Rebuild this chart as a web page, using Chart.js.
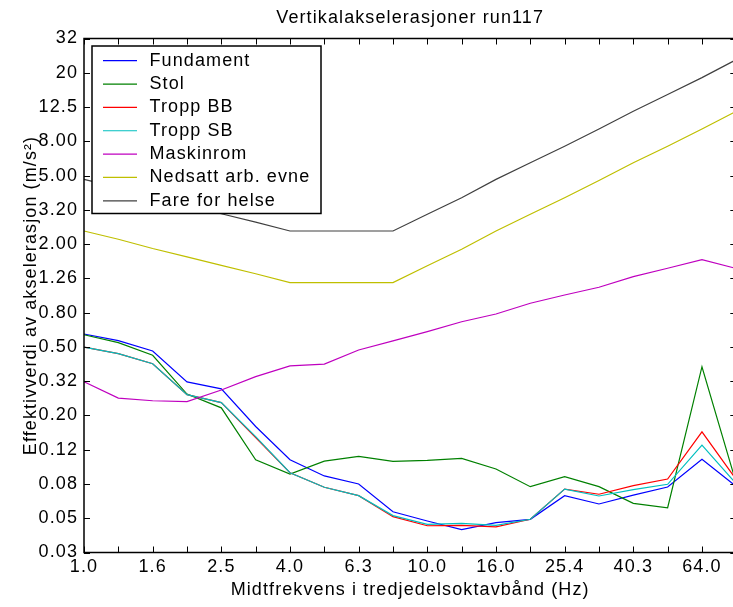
<!DOCTYPE html>
<html>
<head>
<meta charset="utf-8">
<script src="https://cdn.jsdelivr.net/npm/chart.js@4"></script>
<style>
html, body { margin: 0; padding: 0; overflow: hidden; background: #fff; }
#wrap { width: 745px; height: 607px; }
</style>
</head>
<body>
<div id="wrap"><canvas id="c" width="745" height="607"></canvas></div>
<script>
// Third-octave centre frequencies (Hz)
const freqLabels = ['1.0','1.3','1.6','2.0','2.5','3.2','4.0','5.0','6.3','8.0','10.0','12.7','16.0','20.2','25.4','32.0','40.3','50.8','64.0','80.6'];

// Y tick labels (log axis, bottom to top)
const yTickLabels = ['0.03','0.05','0.08','0.12','0.20','0.32','0.50','0.80','1.26','2.00','3.20','5.00','8.00','12.5','20','32'];

// Series values (m/s^2)
const fundament = [0.596,0.545,0.474,0.313,0.285,0.172,0.110,0.0885,0.0794,0.0547,0.0483,0.0430,0.0472,0.0494,0.0679,0.0607,0.0683,0.0762,0.1107,0.0767];
const stol      = [0.590,0.531,0.448,0.266,0.221,0.110,0.0908,0.108,0.115,0.1075,0.109,0.112,0.0972,0.0766,0.0876,0.0766,0.0612,0.0577,0.384,0.080];
const troppBB   = [0.500,0.458,0.400,0.264,0.237,0.148,0.0924,0.076,0.0679,0.0512,0.0453,0.0455,0.0446,0.0494,0.0742,0.0692,0.0776,0.0849,0.160,0.0843];
const troppSB   = [0.500,0.458,0.400,0.264,0.237,0.150,0.0924,0.076,0.0679,0.0519,0.0462,0.0468,0.0455,0.0494,0.0742,0.0676,0.0736,0.0791,0.134,0.0796];
const maskinrom = [0.314,0.252,0.243,0.240,0.281,0.336,0.388,0.398,0.481,0.543,0.615,0.703,0.780,0.901,1.007,1.117,1.288,1.443,1.620,1.437];
const nedsatt   = [2.38,2.13,1.88,1.68,1.50,1.34,1.19,1.19,1.19,1.19,1.49,1.86,2.38,2.98,3.72,4.69,5.95,7.44,9.37,11.9];
const fare      = [4.76,4.26,3.76,3.36,3.00,2.68,2.38,2.38,2.38,2.38,2.98,3.72,4.76,5.96,7.44,9.38,11.9,14.9,18.7,23.8];

const seriesNames = ['Fundament','Stol','Tropp BB','Tropp SB','Maskinrom','Nedsatt arb. evne','Fare for helse'];
const seriesData = [fundament, stol, troppBB, troppSB, maskinrom, nedsatt, fare];
const seriesColors = ['#0000ff','#008000','#ff0000','#00bfbf','#bf00bf','#bfbf00','#404040'];

const FONT = '"Liberation Sans", Arial, Helvetica, sans-serif';
Chart.defaults.font.family = FONT;
Chart.defaults.font.size = 18;
Chart.defaults.color = '#000';

const spacingPlugin = {
  id: 'spacing',
  beforeUpdate(chart) { chart.ctx.letterSpacing = '1.1px'; },
  beforeDraw(chart) { chart.ctx.letterSpacing = '1.1px'; }
};

const framePlugin = {
  id: 'frame',
  afterDatasetsDraw(chart) {
    const {ctx, chartArea: a, scales: {x, y}} = chart;
    ctx.save();
    ctx.strokeStyle = '#000';
    ctx.lineWidth = 1;
    const tl = 6;
    ctx.beginPath();
    for (let i = 0; i < x.ticks.length; i++) {
      const px = Math.round(x.getPixelForTick(i)) + 0.5;
      ctx.moveTo(px, a.bottom); ctx.lineTo(px, a.bottom - tl);
      ctx.moveTo(px, a.top); ctx.lineTo(px, a.top + tl);
    }
    for (let i = 0; i < y.ticks.length; i++) {
      const py = Math.round(y.getPixelForTick(i)) + 0.5;
      ctx.moveTo(a.left, py); ctx.lineTo(a.left + tl, py);
      ctx.moveTo(a.right, py); ctx.lineTo(a.right - tl, py);
    }
    ctx.stroke();
    ctx.lineWidth = 1.5;
    ctx.strokeRect(a.left, a.top, a.right - a.left, a.bottom - a.top);
    ctx.restore();
  }
};

const legendPlugin = {
  id: 'inlegend',
  afterDraw(chart) {
    const {ctx} = chart;
    const bx = 92, by = 46, bw = 229, bh = 167.5;
    ctx.save();
    ctx.letterSpacing = '1.1px';
    ctx.fillStyle = '#fff';
    ctx.fillRect(bx, by, bw, bh);
    ctx.strokeStyle = '#000';
    ctx.lineWidth = 1.5;
    ctx.strokeRect(bx, by, bw, bh);
    ctx.font = '18px ' + FONT;
    ctx.textBaseline = 'middle';
    ctx.textAlign = 'left';
    chart.data.datasets.forEach((ds, k) => {
      const ry = 60.7 + k * 23.35;
      ctx.strokeStyle = ds.borderColor;
      ctx.lineWidth = 1.2;
      ctx.beginPath();
      ctx.moveTo(103, ry); ctx.lineTo(137, ry);
      ctx.stroke();
      ctx.fillStyle = '#000';
      ctx.fillText(ds.label, 149.5, ry);
    });
    ctx.restore();
  }
};

const datasets = seriesNames.map((name, i) => ({
  label: name,
  data: seriesData[i],
  borderColor: seriesColors[i],
  backgroundColor: seriesColors[i],
  borderWidth: 1.2,
  pointRadius: 0,
  tension: 0,
  fill: false,
  order: seriesNames.length - i
}));

new Chart(document.getElementById('c'), {
  type: 'line',
  data: { labels: freqLabels, datasets },
  plugins: [spacingPlugin, framePlugin, legendPlugin],
  options: {
    responsive: false,
    animation: false,
    events: [],
    layout: { padding: { left: 0, right: 8.7, top: 0, bottom: 0 } },
    plugins: {
      legend: { display: false },
      tooltip: { enabled: false },
      title: {
        display: true,
        text: 'Vertikalakselerasjoner run117',
        fullSize: false,
        font: { size: 18, weight: 'normal' },
        color: '#000',
        padding: { top: 7.7, bottom: 9.2 }
      }
    },
    scales: {
      x: {
        type: 'category',
        offset: false,
        grid: { display: false, drawTicks: false },
        border: { display: false },
        ticks: {
          autoSkip: false,
          maxRotation: 0,
          minRotation: 0,
          padding: 4,
          callback: (v, i) => (i % 2 === 0 ? freqLabels[i] : '')
        },
        title: {
          display: true,
          text: 'Midtfrekvens i tredjedelsoktavbånd (Hz)',
          padding: { top: 0, bottom: 6.2 }
        },
        afterFit: (s) => { s.height = 54.5; }
      },
      y: {
        type: 'logarithmic',
        min: Math.pow(10, -1.5),
        max: Math.pow(10, 1.5),
        bounds: 'data',
        grid: { display: false, drawTicks: false },
        border: { display: false },
        afterBuildTicks: (s) => {
          s.ticks = yTickLabels.map((_, k) => ({ value: Math.pow(10, -1.5 + 0.2 * k) }));
        },
        ticks: {
          autoSkip: false,
          padding: 6,
          callback: (v, i) => yTickLabels[i]
        },
        title: {
          display: true,
          text: 'Effektivverdi av akselerasjon (m/s²)',
          padding: { top: 20, bottom: 0 }
        },
        afterFit: (s) => { s.width = 84; }
      }
    }
  }
});
</script>
</body>
</html>
